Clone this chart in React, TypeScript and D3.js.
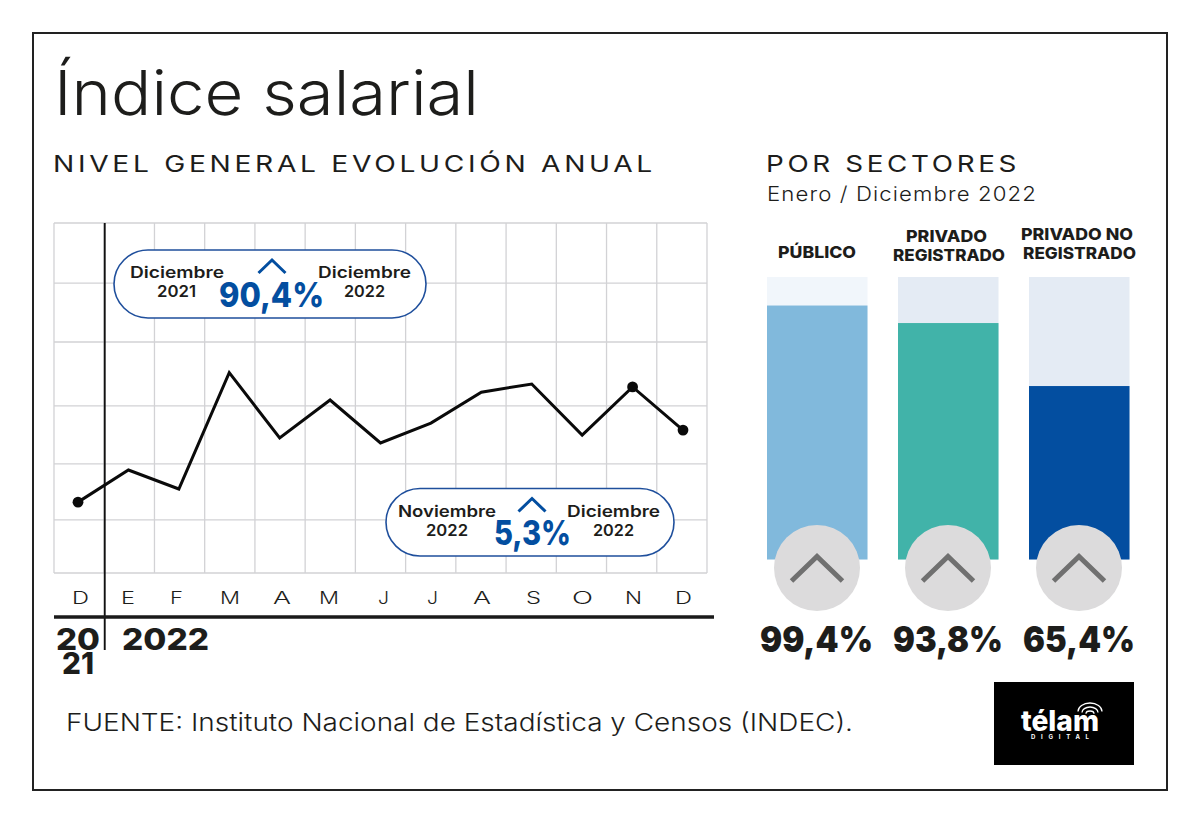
import React from "react";
import * as d3 from "d3";

const months = ["D", "E", "F", "M", "A", "M", "J", "J", "A", "S", "O", "N", "D"];
const monthlyValues = [2.43, 3.53, 2.88, 6.87, 4.63, 5.93, 4.46, 5.14, 6.2, 6.48, 4.73, 6.38, 4.9];
const gridValues = [0, 1.82, 3.74, 5.73, 7.92, 9.94, 12];
const markedPoints = [0, 11, 12];
const sectorValues = ["99,4%", "93,8%", "65,4%"];
const sectorFill = [89.9, 83.7, 61.4];

const FONT = "Inter, 'Open Sans', sans-serif";
const INK = "#1d1d1b";
const BLUE = "#034ea0";

const x = d3.scalePoint<number>().domain(d3.range(months.length)).range([78, 683]);
const gridX = d3.scaleLinear().domain([0, months.length]).range([54, 707]);
const y = d3.scaleLinear().domain([0, 12]).range([573, 223]);
const barY = d3.scaleLinear().domain([0, 100]).range([559.5, 277]);
const lineGen = d3.line<number>().x((_, i) => x(i) as number).y((d) => y(d));

const monthLabelX = [72, 121, 170, 220, 273, 319, 378, 427, 473, 526, 572, 625, 675];
const monthLabelW = [17, 14, 13, 20, 18, 20, 11, 11, 18, 15, 21, 17, 17];

function T({ x, y, w, size, weight = 400, fill = INK, mode = "spacingAndGlyphs", ls = 0, children }: any) {
  return (
    <text x={x} y={y} textLength={w} lengthAdjust={mode} fontSize={size} fontWeight={weight} fill={fill} fontFamily={FONT} letterSpacing={ls || undefined}>
      {children}
    </text>
  );
}

function Pill({ px, py, w, h, chev, l1, l1x, l1w, l2, l2x, l2w, r1x, r1w, r2, r2x, r2w, val, valx, valw }: any) {
  return (
    <g>
      <rect x={px} y={py} width={w} height={h} rx={34} fill="#fff" stroke="#1f4f9c" strokeWidth={1.6} />
      <T x={l1x} y={py + 28} w={l1w} size={16} weight={600}>{l1}</T>
      <T x={l2x} y={py + 47} w={l2w} size={16} weight={600}>{l2}</T>
      <T x={r1x} y={py + 28} w={r1w} size={16} weight={600}>Diciembre</T>
      <T x={r2x} y={py + 47} w={r2w} size={16} weight={600}>{r2}</T>
      <T x={valx} y={py + 56.5} w={valw} size={34} weight={800} fill={BLUE}>{val}</T>
      <path d={`M${chev - 13.5},${py + 23}L${chev},${py + 10}L${chev + 13.5},${py + 23}`} fill="none" stroke={BLUE} strokeWidth={3} />
    </g>
  );
}

const bars = [
  { bx: 767, track: "#f1f6fb", fill: "#81b9dc" },
  { bx: 898, track: "#e4ebf4", fill: "#41b3a9" },
  { bx: 1029, track: "#e4ebf4", fill: "#034ea0" },
];
const valuePos = [[760, 113], [893, 110], [1023, 112]];

export default function App() {
  return (
    <svg width={1200} height={823} style={{ position: "absolute", left: 0, top: 0, background: "#fff" }}>
      <rect x={33} y={33} width={1134} height={757} fill="#fff" stroke="#222" strokeWidth={2} />

      <T x={54} y={115} w={425} size={62} weight={300}>Índice salarial</T>
      <T x={53} y={172} w={603} size={23} weight={400} ls={3}>NIVEL GENERAL EVOLUCIÓN ANUAL</T>
      <T x={766} y={172} w={254} size={23} weight={400} ls={3}>POR SECTORES</T>
      <T x={767} y={201} w={270} size={20} weight={300} ls={1}>Enero / Diciembre 2022</T>

      {d3.range(months.length + 1).map((i) => (
        <line key={i} x1={gridX(i)} x2={gridX(i)} y1={y(12)} y2={y(0)} stroke="#d2d2d5" strokeWidth={1.3} />
      ))}
      {gridValues.map((v) => (
        <line key={v} x1={gridX(0)} x2={gridX(months.length)} y1={y(v)} y2={y(v)} stroke="#d2d2d5" strokeWidth={1.3} />
      ))}

      <line x1={gridX(1) + 0.5} x2={gridX(1) + 0.5} y1={y(12)} y2={650} stroke="#111" strokeWidth={1.9} />
      <line x1={54} x2={714} y1={617} y2={617} stroke="#1a1a1a" strokeWidth={3.4} />
      {months.map((m, i) => (
        <T key={i} x={monthLabelX[i]} y={604} w={monthLabelW[i]} size={17} weight={300}>{m}</T>
      ))}
      <T x={56} y={650} w={44} size={30} weight={800}>20</T>
      <T x={62} y={674} w={32} size={30} weight={800}>21</T>
      <T x={122} y={650} w={87} size={30} weight={800}>2022</T>

      <path d={lineGen(monthlyValues) as string} fill="none" stroke="#0a0a0a" strokeWidth={3} strokeLinejoin="miter" />
      {markedPoints.map((i) => (
        <circle key={i} cx={x(i)} cy={y(monthlyValues[i])} r={5.4} fill="#0a0a0a" />
      ))}

      <Pill px={114} py={250} w={312} h={68} chev={272} val="90,4%" valx={219} valw={105}
        l1="Diciembre" l1x={130} l1w={94} l2="2021" l2x={157} l2w={39}
        r1x={318} r1w={93} r2="2022" r2x={344} r2w={41} />
      <Pill px={386} py={488.5} w={288} h={67.5} chev={532} val="5,3%" valx={494} valw={77}
        l1="Noviembre" l1x={398} l1w={98} l2="2022" l2x={426} l2w={42}
        r1x={567} r1w={93} r2="2022" r2x={593} r2w={41} />

      <T x={778} y={258} w={78} size={16} weight={800}>PÚBLICO</T>
      <T x={906} y={242} w={81} size={16} weight={800}>PRIVADO</T>
      <T x={893} y={261} w={112} size={16} weight={800}>REGISTRADO</T>
      <T x={1021} y={240} w={112} size={16} weight={800}>PRIVADO NO</T>
      <T x={1023} y={259} w={113} size={16} weight={800}>REGISTRADO</T>

      {bars.map((b, i) => {
        const cx = b.bx + 50;
        return (
          <g key={i}>
            <rect x={b.bx} y={barY(100)} width={100.5} height={barY(0) - barY(100)} fill={b.track} />
            <rect x={b.bx} y={barY(sectorFill[i])} width={100.5} height={barY(0) - barY(sectorFill[i])} fill={b.fill} />
            <circle cx={cx} cy={568} r={43} fill="#dcdbdc" />
            <path d={`M${cx - 25.5},581L${cx},556.5L${cx + 25.5},581`} fill="none" stroke="#707070" strokeWidth={5} />
            <T x={valuePos[i][0]} y={651.5} w={valuePos[i][1]} size={35} weight={900}>{sectorValues[i]}</T>
          </g>
        );
      })}

      <T x={66} y={731} w={787} size={24} weight={300}>FUENTE: Instituto Nacional de Estadística y Censos (INDEC).</T>

      <rect x={994} y={682} width={140} height={83} fill="#000" />
      <T x={1021} y={731} w={78} size={28} weight={800} fill="#fff">télam</T>
      <T x={1031} y={739} w={58} size={6} weight={700} fill="#fff" mode="spacing">DIGITAL</T>
      {[4, 8, 12].map((r) => (
        <path key={r} d={`M${1090 - r},${715 - r * 0.15}A${r},${r * 0.7} 0 0 1 ${1090 + r},${715 - r * 0.15}`} transform={`translate(0,${-r * 0.15})`} fill="none" stroke="#fff" strokeWidth={1.3} />
      ))}
    </svg>
  );
}
